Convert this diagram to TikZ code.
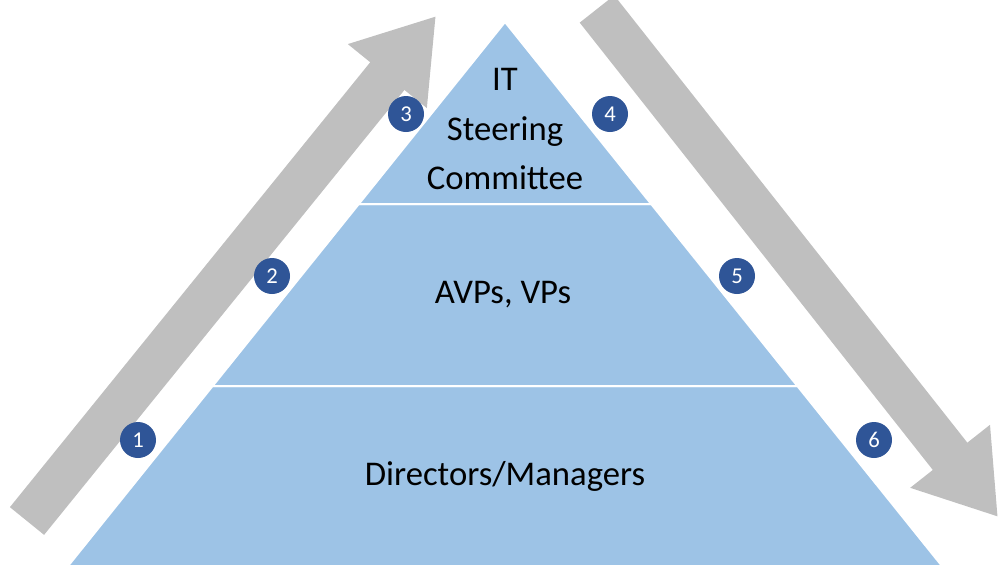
\documentclass[tikz,border=0pt]{standalone}
\usepackage{fontspec}
\setmainfont{Carlito}
\usetikzlibrary{arrows.meta}
\definecolor{pyr}{HTML}{9DC3E6}
\definecolor{num}{HTML}{2F5597}
\definecolor{arr}{HTML}{BFBFBF}
\tikzset{
  layer/.style={fill=pyr, draw=white, line width=1.5pt},
  bigarrow/.style={draw=arr, line width=33pt, -{Triangle[length=58pt,width=72pt]}},
  badge/.style={circle, fill=num, minimum size=27pt, inner sep=0pt, text=white, font=\fontsize{17}{17}\selectfont},
  lbl/.style={font=\fontsize{26}{37}\selectfont, align=center}
}
\begin{document}
\begin{tikzpicture}[x=0.75pt,y=-0.75pt]
\useasboundingbox (0,0) rectangle (1000,569);
\coordinate (la) at (27,521);
\coordinate (lb) at (436,16);
\coordinate (ra) at (597,9);
\coordinate (rb) at (998,517);
\draw[bigarrow] (la) -- (lb);
\draw[bigarrow] (ra) -- (rb);
\path[layer] (68,566) -- (212.6,386) -- (797.4,386) -- (942,566) -- cycle;
\path[layer] (212.6,386) -- (358.8,204) -- (651.2,204) -- (797.4,386) -- cycle;
\path[layer] (358.8,204) -- (505,22) -- (651.2,204) -- cycle;
\node[lbl] (t1) at (505,476) {Directors/Managers};
\node[lbl] (t2) at (503,295) {AVPs, VPs};
\node[lbl] (t3) at (505,129) {IT\\Steering\\Committee};
\node[badge] (b1) at (138,440) {1};
\node[badge] (b2) at (272,276) {2};
\node[badge] (b3) at (406,114) {3};
\node[badge] (b4) at (610,114) {4};
\node[badge] (b5) at (737,276) {5};
\node[badge] (b6) at (874,440) {6};
\end{tikzpicture}
\end{document}
